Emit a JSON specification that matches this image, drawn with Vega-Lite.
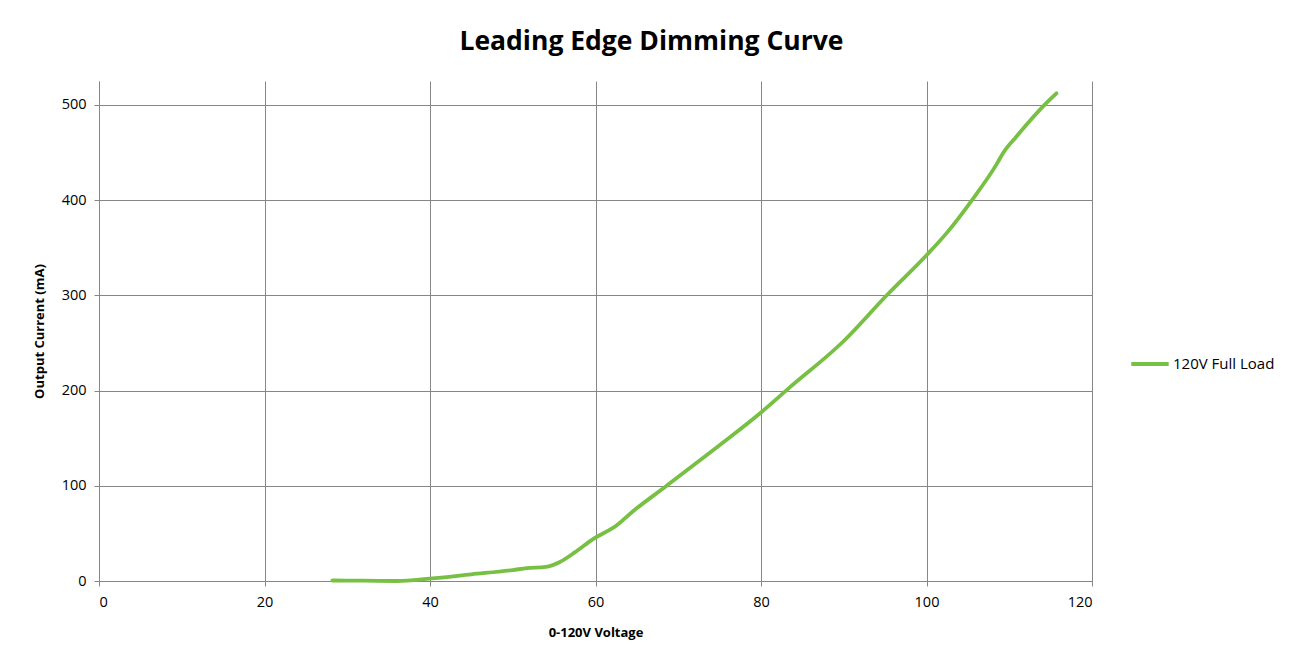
{
  "$schema": "https://vega.github.io/schema/vega-lite/v6.json",
  "width": 993,
  "height": 500,
  "autosize": "none",
  "padding": {"left": 99, "top": 81, "right": 205, "bottom": 82},
  "background": "white",
  "title": {
    "text": "Leading Edge Dimming Curve",
    "fontSize": 26.5,
    "font": "Open Sans",
    "fontWeight": "bold",
    "color": "#000000",
    "anchor": "middle",
    "dx": 56,
    "offset": 26
  },
  "data": {
    "values": [
      {"v": 28.2, "i": 0.5, "s": "120V Full Load"},
      {"v": 32, "i": 0.3, "s": "120V Full Load"},
      {"v": 36, "i": 0, "s": "120V Full Load"},
      {"v": 40, "i": 2.5, "s": "120V Full Load"},
      {"v": 45, "i": 7, "s": "120V Full Load"},
      {"v": 50, "i": 11.5, "s": "120V Full Load"},
      {"v": 51.7, "i": 13.5, "s": "120V Full Load"},
      {"v": 54, "i": 14.8, "s": "120V Full Load"},
      {"v": 55.7, "i": 20, "s": "120V Full Load"},
      {"v": 57.5, "i": 30, "s": "120V Full Load"},
      {"v": 59.7, "i": 44, "s": "120V Full Load"},
      {"v": 62.5, "i": 58, "s": "120V Full Load"},
      {"v": 64.5, "i": 73, "s": "120V Full Load"},
      {"v": 68.6, "i": 100, "s": "120V Full Load"},
      {"v": 74.6, "i": 140, "s": "120V Full Load"},
      {"v": 80, "i": 177, "s": "120V Full Load"},
      {"v": 83.3, "i": 202, "s": "120V Full Load"},
      {"v": 90, "i": 252, "s": "120V Full Load"},
      {"v": 95.2, "i": 300, "s": "120V Full Load"},
      {"v": 100, "i": 342, "s": "120V Full Load"},
      {"v": 102.4, "i": 365, "s": "120V Full Load"},
      {"v": 105.5, "i": 400, "s": "120V Full Load"},
      {"v": 108.5, "i": 438, "s": "120V Full Load"},
      {"v": 109.3, "i": 450, "s": "120V Full Load"},
      {"v": 110.9, "i": 467, "s": "120V Full Load"},
      {"v": 114.5, "i": 502, "s": "120V Full Load"},
      {"v": 115.7, "i": 512, "s": "120V Full Load"}
    ]
  },
  "mark": {"type": "line", "interpolate": "monotone", "strokeWidth": 3.8, "strokeCap": "round"},
  "encoding": {
    "x": {
      "field": "v",
      "type": "quantitative",
      "scale": {"domain": [0, 120], "nice": false},
      "axis": {
        "title": "0-120V Voltage",
        "values": [0, 20, 40, 60, 80, 100, 120],
        "labelPadding": 9,
        "titlePadding": 18
      }
    },
    "y": {
      "field": "i",
      "type": "quantitative",
      "scale": {"domain": [0, 525], "nice": false},
      "axis": {
        "title": "Output Current (mA)",
        "values": [0, 100, 200, 300, 400, 500],
        "labelPadding": 8,
        "titlePadding": 15
      }
    },
    "color": {
      "field": "s",
      "type": "nominal",
      "scale": {"range": ["#77C043"]},
      "legend": {
        "title": null,
        "orient": "none",
        "legendX": 1030,
        "legendY": 262,
        "symbolType": "stroke",
        "symbolSize": 1400,
        "symbolStrokeWidth": 3.8,
        "labelFontSize": 15,
        "labelFont": "Open Sans",
        "labelColor": "#000000",
        "labelOffset": 2
      }
    }
  },
  "config": {
    "view": {"stroke": null},
    "axis": {
      "gridColor": "#868686",
      "gridOpacity": 1,
      "gridWidth": 1,
      "domainColor": "#868686",
      "tickColor": "#868686",
      "tickSize": 5,
      "labelFont": "Open Sans",
      "labelFontSize": 14.5,
      "labelColor": "#000000",
      "titleFont": "Open Sans",
      "titleFontSize": 13,
      "titleFontWeight": "bold",
      "titleColor": "#000000"
    }
  }
}
